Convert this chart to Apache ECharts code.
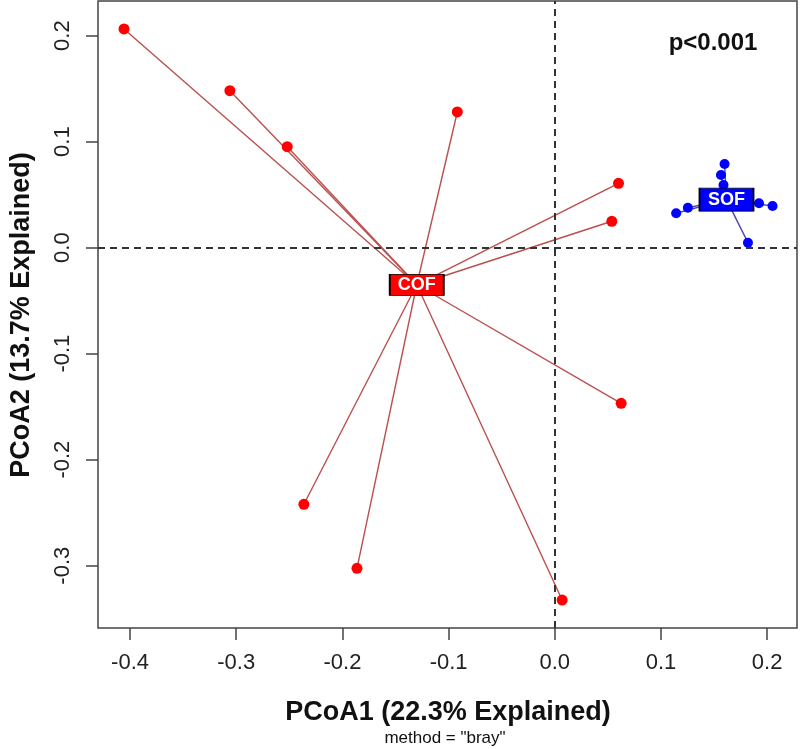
<!DOCTYPE html>
<html>
<head>
<meta charset="utf-8">
<script src="https://cdn.jsdelivr.net/npm/echarts@6/dist/echarts.min.js"></script>
<style>
html,body{margin:0;padding:0;background:#fff;}
#chart{width:800px;height:749px;}
</style>
</head>
<body>
<div id="chart"></div>
<script>
// Group COF (red)
const cofX = [-0.4057, -0.306, -0.252, -0.0918, 0.0600, 0.0537, 0.0625, -0.2363, -0.1863, 0.0069];
const cofY = [0.2063, 0.1481, 0.0953, 0.128, 0.0607, 0.0249, -0.1468, -0.2421, -0.3025, -0.3324];
const cofCentroid = [-0.130, -0.035];
// Group SOF (blue)
const sofX = [0.1599, 0.1565, 0.1589, 0.1143, 0.1253, 0.1923, 0.2051, 0.1819];
const sofY = [0.079, 0.0686, 0.0592, 0.0325, 0.0377, 0.0419, 0.0393, 0.0047];
const sofCentroid = [0.1617, 0.0453];
const groupNames = ['COF', 'SOF'];
// Axis ticks
const xTicks = [-0.4, -0.3, -0.2, -0.1, 0.0, 0.1, 0.2];
const yTicks = [-0.3, -0.2, -0.1, 0.0, 0.1, 0.2];
const xRange = [-0.4302, 0.2281];
const yRange = [-0.3588, 0.2327];

const FONT = '"Liberation Sans", Arial, sans-serif';

function pts(xs, ys) { return xs.map((x, i) => [x, ys[i]]); }
function spider(c, xs, ys) { return xs.map((x, i) => ({ coords: [c, [x, ys[i]]] })); }

const chart = echarts.init(document.getElementById('chart'), null, { renderer: 'canvas' });

const axisCommon = {
  type: 'value',
  splitLine: { show: false },
  axisLine: { show: false, onZero: false },
  axisTick: { show: true, inside: false, length: 12, lineStyle: { color: '#444', width: 1.5 } },
};

chart.setOption({
  animation: false,
  backgroundColor: '#ffffff',
  grid: {
    left: 98, right: 3, top: 1, bottom: 121,
    show: true, borderColor: '#444', borderWidth: 1.5, backgroundColor: 'transparent'
  },
  xAxis: Object.assign({}, axisCommon, {
    min: xRange[0], max: xRange[1],
    axisTick: Object.assign({}, axisCommon.axisTick, { customValues: xTicks }),
    axisLabel: {
      customValues: xTicks, margin: 24, fontSize: 22, color: '#222', fontFamily: FONT,
      formatter: v => v.toFixed(1)
    }
  }),
  yAxis: Object.assign({}, axisCommon, {
    min: yRange[0], max: yRange[1],
    axisTick: Object.assign({}, axisCommon.axisTick, { customValues: yTicks }),
    axisLabel: {
      customValues: yTicks, margin: 24, fontSize: 22, color: '#222', fontFamily: FONT, rotate: 90,
      formatter: v => v.toFixed(1)
    }
  }),
  series: [
    {
      type: 'scatter', data: [], z: 1, silent: true,
      markLine: {
        silent: true, symbol: 'none', animation: false,
        label: { show: false },
        lineStyle: { color: '#333', width: 2, type: [7, 5] },
        data: [{ xAxis: 0 }, { yAxis: 0 }]
      }
    },
    {
      type: 'lines', coordinateSystem: 'cartesian2d', z: 2, silent: true,
      lineStyle: { color: '#b9504e', width: 1.4, opacity: 1 },
      data: spider(cofCentroid, cofX, cofY)
    },
    {
      type: 'lines', coordinateSystem: 'cartesian2d', z: 2, silent: true,
      lineStyle: { color: '#4848b0', width: 1.4, opacity: 1 },
      data: spider(sofCentroid, sofX, sofY)
    },
    {
      type: 'scatter', z: 3, symbol: 'circle', symbolSize: 11,
      itemStyle: { color: '#ff0000', opacity: 1 },
      data: pts(cofX, cofY)
    },
    {
      type: 'scatter', z: 3, symbol: 'circle', symbolSize: 10,
      itemStyle: { color: '#0000ff', opacity: 1 },
      data: pts(sofX, sofY)
    },
    {
      type: 'scatter', z: 4, symbol: 'rect', symbolSize: [54, 21],
      itemStyle: { color: '#ff0000', borderColor: '#000', borderWidth: 1.2, opacity: 1 },
      label: { show: true, position: 'inside', formatter: groupNames[0], color: '#fff', fontWeight: 'bold', fontSize: 18, fontFamily: FONT },
      data: [cofCentroid]
    },
    {
      type: 'scatter', z: 4, symbol: 'rect', symbolSize: [54, 23],
      itemStyle: { color: '#0000ff', borderColor: '#000', borderWidth: 1.2, opacity: 1 },
      label: { show: true, position: 'inside', formatter: groupNames[1], color: '#fff', fontWeight: 'bold', fontSize: 18, fontFamily: FONT },
      data: [sofCentroid]
    }
  ],
  graphic: [
    { type: 'text', x: 713, y: 43, style: { text: 'p<0.001', fontSize: 24, fontWeight: 'bold', fontFamily: FONT, fill: '#111', textAlign: 'center', textVerticalAlign: 'middle' } },
    { type: 'text', x: 448, y: 713, style: { text: 'PCoA1 (22.3% Explained)', fontSize: 27, fontWeight: 'bold', fontFamily: FONT, fill: '#111', textAlign: 'center', textVerticalAlign: 'middle' } },
    { type: 'text', x: 445, y: 738, style: { text: 'method = "bray"', fontSize: 17, fontFamily: FONT, fill: '#111', textAlign: 'center', textVerticalAlign: 'middle' } },
    { type: 'text', x: 22, y: 315, rotation: Math.PI / 2, style: { text: 'PCoA2 (13.7% Explained)', fontSize: 27, fontWeight: 'bold', fontFamily: FONT, fill: '#111', textAlign: 'center', textVerticalAlign: 'middle' } }
  ]
});
</script>
</body>
</html>
